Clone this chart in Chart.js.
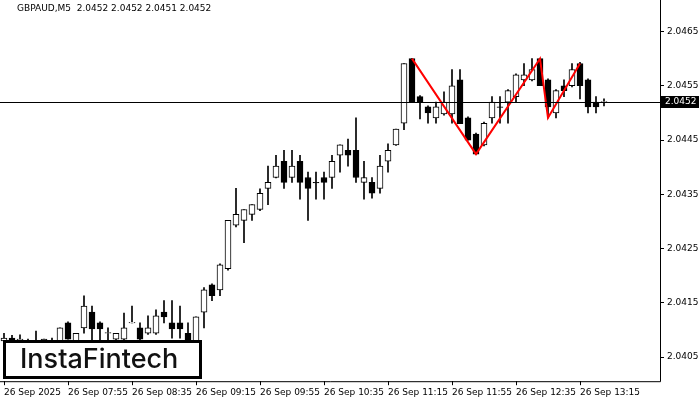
<!DOCTYPE html>
<html><head><meta charset="utf-8">
<script src="https://cdn.jsdelivr.net/npm/chart.js@4/dist/chart.umd.min.js"></script>
<style>html,body{margin:0;padding:0;background:#fff}#w{width:700px;height:400px}</style>
</head><body><div id="w"><canvas id="c"></canvas></div>
<script>
const symbolTitle = "GBPAUD,M5  2.0452 2.0452 2.0451 2.0452";
const timeLabels = ["26 Sep 2025","26 Sep 07:55","26 Sep 08:35","26 Sep 09:15","26 Sep 09:55","26 Sep 10:35","26 Sep 11:15","26 Sep 11:55","26 Sep 12:35","26 Sep 13:15"];
const priceTicks = [2.0405,2.0415,2.0425,2.0435,2.0445,2.0455,2.0465];
const currentPrice = 2.0452;
const opens = [2.04080,2.04085,2.04082,2.04076,2.04080,2.04076,2.04080,2.04076,2.04113,2.04076,2.04104,2.04133,2.04113,2.04094,2.04083,2.04083,2.04113,2.04104,2.04094,2.04094,2.04133,2.04113,2.04113,2.04094,2.04076,2.04133,2.04183,2.04174,2.04213,2.04293,2.04302,2.04313,2.04322,2.04361,2.04381,2.04411,2.04381,2.04411,2.04381,2.04372,2.04381,2.04381,2.04422,2.04431,2.04431,2.04372,2.04372,2.04361,2.04411,2.04441,2.04481,2.04600,2.04530,2.04511,2.04491,2.04498,2.04498,2.04561,2.04491,2.04461,2.04441,2.04491,2.04511,2.04520,2.04530,2.04561,2.04561,2.04600,2.04561,2.04500,2.04550,2.04550,2.04591,2.04561,2.04520,2.04520];
const highs = [2.04094,2.04090,2.04091,2.04083,2.04098,2.04083,2.04085,2.04104,2.04115,2.04094,2.04163,2.04144,2.04115,2.04104,2.04094,2.04131,2.04144,2.04113,2.04126,2.04137,2.04154,2.04154,2.04144,2.04113,2.04124,2.04178,2.04185,2.04222,2.04302,2.04361,2.04322,2.04331,2.04360,2.04402,2.04422,2.04431,2.04431,2.04422,2.04391,2.04391,2.04391,2.04422,2.04441,2.04452,2.04491,2.04411,2.04381,2.04422,2.04443,2.04470,2.04591,2.04600,2.04532,2.04513,2.04520,2.04539,2.04580,2.04580,2.04493,2.04463,2.04483,2.04530,2.04530,2.04543,2.04572,2.04591,2.04600,2.04600,2.04563,2.04543,2.04561,2.04591,2.04593,2.04563,2.04530,2.04526];
const lows = [2.04070,2.04070,2.04080,2.04074,2.04076,2.04074,2.04076,2.04074,2.04083,2.04074,2.04094,2.04076,2.04076,2.04076,2.04080,2.04080,2.04113,2.04080,2.04092,2.04092,2.04113,2.04085,2.04085,2.04074,2.04074,2.04104,2.04154,2.04163,2.04210,2.04290,2.04261,2.04302,2.04320,2.04331,2.04380,2.04361,2.04372,2.04341,2.04302,2.04341,2.04341,2.04361,2.04391,2.04402,2.04372,2.04341,2.04343,2.04352,2.04391,2.04440,2.04469,2.04520,2.04489,2.04481,2.04481,2.04496,2.04481,2.04480,2.04450,2.04424,2.04439,2.04481,2.04481,2.04481,2.04520,2.04550,2.04559,2.04550,2.04491,2.04491,2.04530,2.04548,2.04526,2.04500,2.04500,2.04513];
const closes = [2.04085,2.04080,2.04083,2.04081,2.04081,2.04083,2.04081,2.04104,2.04083,2.04094,2.04144,2.04102,2.04102,2.04095,2.04094,2.04104,2.04114,2.04083,2.04104,2.04126,2.04124,2.04102,2.04102,2.04076,2.04124,2.04174,2.04163,2.04220,2.04302,2.04313,2.04322,2.04331,2.04352,2.04372,2.04402,2.04372,2.04402,2.04372,2.04361,2.04371,2.04372,2.04411,2.04441,2.04422,2.04381,2.04381,2.04352,2.04402,2.04431,2.04470,2.04591,2.04520,2.04520,2.04500,2.04511,2.04520,2.04550,2.04480,2.04450,2.04424,2.04481,2.04520,2.04510,2.04541,2.04570,2.04570,2.04580,2.04550,2.04511,2.04541,2.04541,2.04580,2.04550,2.04511,2.04511,2.04521];
const patternIdx = [51,59,67,68,72];
const patternVals = [2.04600,2.04424,2.04600,2.04491,2.04591];

const wicks = opens.map((o,i)=>({x:i,y:[lows[i],highs[i]]}));
const bodies = opens.map((o,i)=>{let a=o,b=closes[i]; if(Math.abs(a-b)<0.000008){b=a+0.000008;} return {x:i,y:[a,b]};});
const up = opens.map((o,i)=>closes[i]>=o);
const pattern = patternIdx.map((x,i)=>({x:x,y:patternVals[i]}));
const xMin=-0.5, xMax=82;

const overlay = {
  id:'overlay',
  afterDatasetsDraw(ch){
    const {ctx, chartArea:a, scales:{y}} = ch;
    const py = Math.round(y.getPixelForValue(currentPrice))+0.5;
    ctx.save();
    ctx.strokeStyle='#000'; ctx.lineWidth=1;
    ctx.beginPath(); ctx.moveTo(a.left,py); ctx.lineTo(a.right,py); ctx.stroke();
    ctx.restore();
  },
  afterDraw(ch){
    const {ctx, chartArea:a, scales:{y}} = ch;
    ctx.save();
    ctx.strokeStyle='#000'; ctx.lineWidth=1;
    ctx.beginPath(); ctx.moveTo(a.right+0.5,0); ctx.lineTo(a.right+0.5,a.bottom+0.5); ctx.lineTo(0,a.bottom+0.5); ctx.stroke();
    const py = Math.round(y.getPixelForValue(currentPrice));
    ctx.fillStyle='#000'; ctx.fillRect(a.right+1,py-6,38,12);
    ctx.fillStyle='#fff'; ctx.font='9px "DejaVu Sans"'; ctx.textBaseline='middle'; ctx.textAlign='left';
    ctx.fillText(currentPrice.toFixed(4),a.right+5,py);
    ctx.fillStyle='#000'; ctx.textBaseline='top';
    ctx.fillText(symbolTitle,17,4);
    ctx.fillStyle='#fff'; ctx.fillRect(3,340,198,38);
    ctx.lineWidth=3; ctx.strokeRect(4.5,341.5,196,36);
    ctx.fillStyle='#111'; ctx.font='500 27px Inter'; ctx.textBaseline='middle';
    ctx.fillText('InstaFintech',20,360);
    ctx.restore();
  }
};

new Chart(document.getElementById('c'),{
  type:'bar',
  data:{datasets:[
    {type:'line',data:pattern,borderColor:'#ff0000',borderWidth:2,pointRadius:0,order:0},
    {data:bodies,backgroundColor:up.map(u=>u?'#fff':'#000'),borderColor:'#000',borderWidth:1,borderSkipped:false,barThickness:6,grouped:false,order:1},
    {data:wicks,backgroundColor:'#000',borderWidth:0,barThickness:1,grouped:false,order:2}
  ]},
  options:{
    responsive:true,maintainAspectRatio:false,animation:false,
    layout:{padding:0},
    plugins:{legend:{display:false},tooltip:{enabled:false}},
    scales:{
      x:{type:'linear',min:xMin,max:xMax,offset:false,
        afterBuildTicks(s){s.ticks=timeLabels.map((l,i)=>({value:i*8}));},
        ticks:{autoSkip:false,maxRotation:0,align:'start',color:'#000',font:{family:'DejaVu Sans',size:9},padding:2,
          callback:(v)=>timeLabels[Math.round(v/8)]},
        grid:{drawOnChartArea:false,tickLength:4,color:'#000',offset:false},border:{display:false}},
      y:{position:'right',min:2.040056,max:2.046926,
        afterBuildTicks(s){s.ticks=priceTicks.map(v=>({value:v}));},
        afterFit(s){s.width=40;},
        ticks:{color:'#000',font:{family:'DejaVu Sans',size:9},padding:3,callback:v=>v.toFixed(4)},
        grid:{drawOnChartArea:false,tickLength:4,color:'#000'},border:{display:false}}
    }
  },
  plugins:[overlay]
});
</script></body></html>
